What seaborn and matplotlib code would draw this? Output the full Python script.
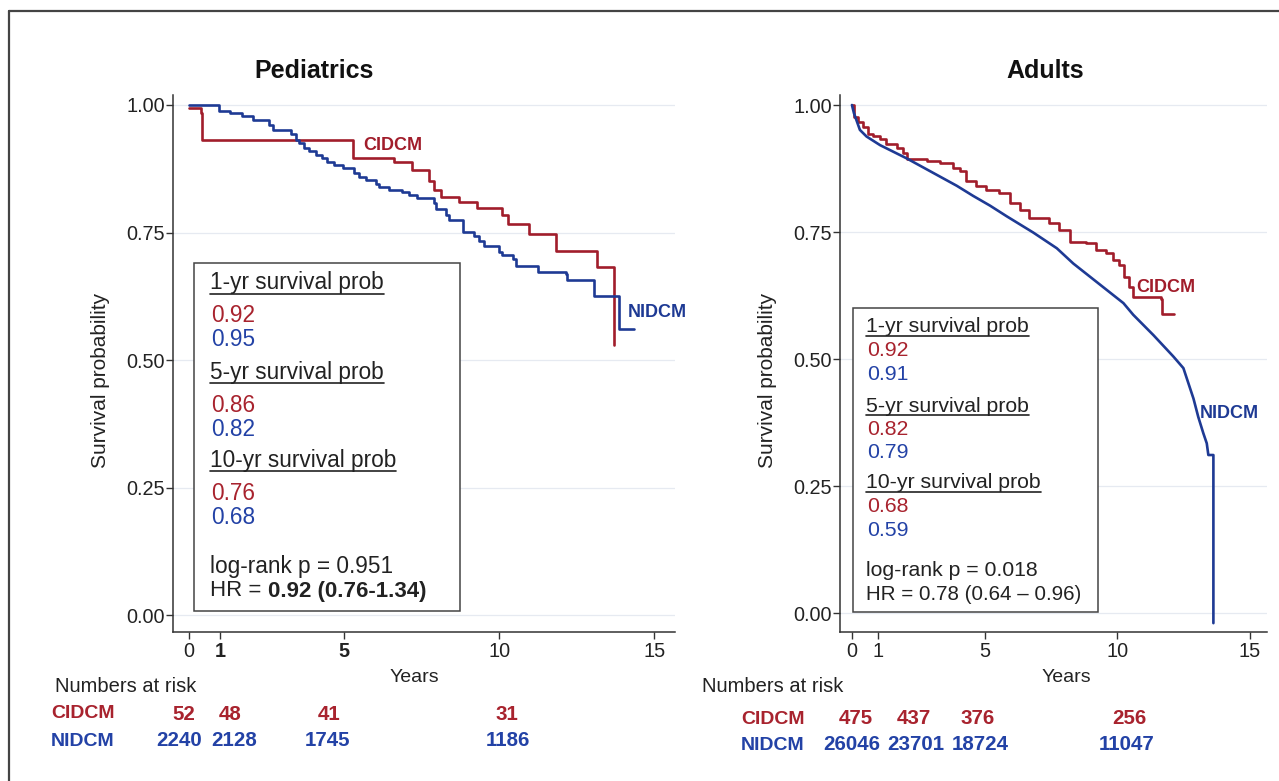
import matplotlib
matplotlib.use("Agg")
import matplotlib.pyplot as plt
import seaborn as sns
import pandas as pd
from matplotlib.lines import Line2D
from matplotlib.patches import Rectangle

# ---------------- data ----------------
ped_cidcm_t = [0.0, 0.38, 0.43, 5.27, 6.61, 7.20, 7.74, 7.90, 8.12, 8.71, 9.30,
               10.10, 10.27, 10.97, 11.83, 13.17, 13.70]
ped_cidcm_s = [0.994, 0.985, 0.932, 0.897, 0.888, 0.873, 0.850, 0.833, 0.820, 0.810,
               0.798, 0.785, 0.767, 0.748, 0.713, 0.682, 0.530]

ped_nidcm_t = [0.0, 0.97, 1.32, 1.70, 2.06, 2.56, 2.69, 3.28, 3.44, 3.55, 3.71, 3.87,
               4.09, 4.30, 4.46, 4.68, 4.95, 5.32, 5.48, 5.70, 6.02, 6.13, 6.45, 6.88,
               7.10, 7.36, 7.90, 7.96, 8.28, 8.39, 8.82, 9.19, 9.35, 9.52, 10.00, 10.10,
               10.43, 10.54, 11.24, 12.15, 12.20, 13.06, 13.87, 14.35]
ped_nidcm_s = [1.000, 0.989, 0.984, 0.978, 0.970, 0.961, 0.951, 0.943, 0.932, 0.925,
               0.915, 0.909, 0.902, 0.896, 0.889, 0.882, 0.876, 0.866, 0.859, 0.853,
               0.846, 0.840, 0.833, 0.830, 0.823, 0.817, 0.807, 0.797, 0.784, 0.774,
               0.751, 0.744, 0.734, 0.724, 0.711, 0.705, 0.698, 0.685, 0.672, 0.669,
               0.656, 0.626, 0.560, 0.560]

adu_cidcm_t = [0.0, 0.08, 0.24, 0.43, 0.61, 0.80, 1.05, 1.30, 1.68, 1.93, 2.06, 2.81,
               3.31, 3.81, 4.06, 4.31, 4.69, 5.06, 5.56, 5.94, 6.32, 6.69, 7.44, 7.82,
               8.20, 8.82, 9.20, 9.58, 9.82, 10.08, 10.26, 10.45, 10.58, 11.64, 11.70,
               12.14]
adu_cidcm_s = [1.000, 0.976, 0.966, 0.956, 0.942, 0.939, 0.933, 0.923, 0.916, 0.906,
               0.893, 0.890, 0.886, 0.876, 0.870, 0.850, 0.840, 0.833, 0.827, 0.807,
               0.794, 0.777, 0.767, 0.754, 0.731, 0.728, 0.714, 0.708, 0.694, 0.685,
               0.661, 0.642, 0.622, 0.618, 0.589, 0.589]

adu_nidcm_t = [0.0, 0.075, 0.30, 0.55, 1.06, 2.06, 2.69, 3.32, 3.95, 4.57, 5.20, 5.83,
               6.83, 7.72, 8.34, 8.97, 9.60, 10.23, 10.60, 11.36, 12.11, 12.49, 12.68,
               12.87, 13.05, 13.24, 13.37, 13.43, 13.62, 13.62]
adu_nidcm_s = [1.000, 0.984, 0.951, 0.938, 0.921, 0.895, 0.877, 0.859, 0.841, 0.821,
               0.802, 0.781, 0.749, 0.718, 0.688, 0.662, 0.636, 0.610, 0.587, 0.547,
               0.505, 0.482, 0.452, 0.422, 0.386, 0.354, 0.334, 0.311, 0.311, -0.020]

horizons = ["1-yr", "5-yr", "10-yr"]
ped_surv_cidcm = ["0.92", "0.86", "0.76"]
ped_surv_nidcm = ["0.95", "0.82", "0.68"]
adu_surv_cidcm = ["0.92", "0.82", "0.68"]
adu_surv_nidcm = ["0.91", "0.79", "0.59"]

ped_logrank = "0.951"
ped_hr = "0.92 (0.76-1.34)"
adu_logrank = "0.018"
adu_hr = "0.78 (0.64 \u2013 0.96)"

ped_risk_cidcm = [52, 48, 41, 31]
ped_risk_nidcm = [2240, 2128, 1745, 1186]
adu_risk_cidcm = [475, 437, 376, 256]
adu_risk_nidcm = [26046, 23701, 18724, 11047]

x_ticks = [0, 1, 5, 10, 15]
y_ticks = [0.0, 0.25, 0.50, 0.75, 1.00]
y_ticklabels = ["0.00", "0.25", "0.50", "0.75", "1.00"]

# ---------------- style ----------------
sns.set_theme(style="ticks")
plt.rcParams["font.family"] = ["Liberation Sans", "DejaVu Sans"]

RED = "#A11D2B"
BLUE = "#1E3A94"
TXT_RED = "#A8232E"
TXT_BLUE = "#2342A6"
DARK = "#222222"

W, H = 1279, 781
fig = plt.figure(figsize=(W / 100, H / 100), dpi=100)
fig.patch.set_facecolor("white")


def fx(px):
    return px / W


def fy(py):
    return 1 - py / H


axL = fig.add_axes([fx(173), fy(632), (675 - 173) / W, (632 - 95) / H])
axR = fig.add_axes([fx(840), fy(632), (1267 - 840) / W, (632 - 95) / H])


def curve(ax, t, s, color, steps=True):
    df = pd.DataFrame({"t": t, "s": s})
    kw = dict(drawstyle="steps-post") if steps else {}
    sns.lineplot(data=df, x="t", y="s", ax=ax, color=color, lw=1.9,
                 estimator=None, sort=False, legend=False, **kw)


curve(axL, ped_cidcm_t, ped_cidcm_s, RED)
curve(axL, ped_nidcm_t, ped_nidcm_s, BLUE)
curve(axR, adu_cidcm_t, adu_cidcm_s, RED)
curve(axR, adu_nidcm_t, adu_nidcm_s, BLUE, steps=False)

axL.set_xlim(-0.52, 15.67)
axL.set_ylim(-0.0333, 1.0196)
axR.set_xlim(-0.45, 15.64)
axR.set_ylim(-0.0374, 1.0197)

for ax, lx, xl in [(axL, -0.125, 0.48), (axR, -0.148, 0.529)]:
    ax.set_facecolor("white")
    sns.despine(ax=ax)
    for sp in ("left", "bottom"):
        ax.spines[sp].set_color("#333333")
        ax.spines[sp].set_linewidth(1.1)
    ax.set_xticks(x_ticks)
    ax.set_xticklabels([str(v) for v in x_ticks])
    ax.set_yticks(y_ticks)
    ax.set_yticklabels(y_ticklabels)
    ax.tick_params(axis="both", direction="out", length=5, width=1.0,
                   color="#333333", labelsize=14.3, labelcolor=DARK, pad=2)
    ax.tick_params(axis="y", pad=1)
    ax.yaxis.grid(True, color="#e6eaf1", lw=0.9)
    ax.xaxis.grid(False)
    ax.set_axisbelow(True)
    ax.set_ylabel("Survival probability", fontsize=15, color=DARK)
    ax.yaxis.set_label_coords(lx, 0.469)
    ax.set_xlabel("Years", fontsize=14, color=DARK)
    ax.xaxis.set_label_coords(xl, -0.069)

for lab in axL.get_xticklabels():
    if lab.get_text() in ("1", "5"):
        lab.set_fontweight("bold")

# titles
fig.text(fx(314), fy(71), "Pediatrics", ha="center", va="center",
         fontsize=18, fontweight="bold", color="#111111")
fig.text(fx(1045), fy(71), "Adults", ha="center", va="center",
         fontsize=18, fontweight="bold", color="#111111")

# curve labels
fig.text(fx(363), fy(146), "CIDCM", ha="left", va="center", fontsize=13,
         fontweight="bold", color=RED)
fig.text(fx(628), fy(313), "NIDCM", ha="left", va="center", fontsize=13,
         fontweight="bold", color=BLUE)
fig.text(fx(1136), fy(287), "CIDCM", ha="left", va="center", fontsize=13,
         fontweight="bold", color=RED)
fig.text(fx(1200), fy(413), "NIDCM", ha="left", va="center", fontsize=13,
         fontweight="bold", color=BLUE)

# stat boxes
fig.add_artist(Rectangle((fx(194), fy(611)), (460 - 194) / W, (611 - 263) / H,
                         transform=fig.transFigure, facecolor="white",
                         edgecolor="#444444", lw=1.1, zorder=5))
fig.add_artist(Rectangle((fx(853), fy(612)), (1098 - 853) / W, (612 - 308) / H,
                         transform=fig.transFigure, facecolor="white",
                         edgecolor="#444444", lw=1.1, zorder=5))

underlined = []


def box_text(x, header_y, row_gap, cid, nid, stat_y, logrank, size, hr_size):
    for i, h in enumerate(horizons):
        y0 = header_y[i]
        t = fig.text(fx(x), fy(y0), f"{h} survival prob", ha="left", va="center",
                     fontsize=size, color=DARK, zorder=6)
        underlined.append(t)
        fig.text(fx(x + 1), fy(y0 + row_gap[0]), cid[i], ha="left", va="center",
                 fontsize=size, color=TXT_RED, zorder=6)
        fig.text(fx(x + 1), fy(y0 + row_gap[1]), nid[i], ha="left", va="center",
                 fontsize=size, color=TXT_BLUE, zorder=6)
    fig.text(fx(x), fy(stat_y[0]), f"log-rank p = {logrank}", ha="left",
             va="center", fontsize=size, color=DARK, zorder=6)
    t1 = fig.text(fx(x), fy(stat_y[1]), "HR = ", ha="left", va="center",
                  fontsize=hr_size, color=DARK, zorder=6)
    return t1


hrL = box_text(210, [283, 372, 460], (33, 57), ped_surv_cidcm, ped_surv_nidcm,
               (567, 591), ped_logrank, 16.3, 16)
hrR = box_text(866, [327, 406, 483], (23, 47), adu_surv_cidcm, adu_surv_nidcm,
               (571, 594), adu_logrank, 15.3, 14.8)

fig.canvas.draw()
renderer = fig.canvas.get_renderer()
inv = fig.transFigure.inverted()

bbL = hrL.get_window_extent(renderer)
fig.text(inv.transform((bbL.x1, 0))[0], fy(591), ped_hr, ha="left", va="center",
         fontsize=16, fontweight="bold", color=DARK, zorder=6)
bbR = hrR.get_window_extent(renderer)
fig.text(inv.transform((bbR.x1, 0))[0], fy(594), adu_hr, ha="left", va="center",
         fontsize=14.8, color=DARK, zorder=6)

for t in underlined:
    bb = t.get_window_extent(renderer)
    (x0, y0), (x1, _) = inv.transform([(bb.x0, bb.y0 + 1), (bb.x1, bb.y0)])
    fig.add_artist(Line2D([x0, x1], [y0, y0], transform=fig.transFigure,
                          color=DARK, lw=1.2, zorder=6))


# numbers at risk
def risk_table(x_lab, x_row, cols_c, cols_n, cid, nid, y_rows):
    fig.text(fx(x_lab), fy(y_rows[0]), "Numbers at risk", ha="left", va="center",
             fontsize=14.5, color=DARK)
    fig.text(fx(x_row), fy(y_rows[1]), "CIDCM", ha="left", va="center",
             fontsize=14, fontweight="bold", color=TXT_RED)
    fig.text(fx(x_row), fy(y_rows[2]), "NIDCM", ha="left", va="center",
             fontsize=14, fontweight="bold", color=TXT_BLUE)
    for cx, a in zip(cols_c, cid):
        fig.text(fx(cx), fy(y_rows[1]), str(a), ha="center", va="center",
                 fontsize=14.8, fontweight="bold", color=TXT_RED)
    for cx, b in zip(cols_n, nid):
        fig.text(fx(cx), fy(y_rows[2]), str(b), ha="center", va="center",
                 fontsize=14.8, fontweight="bold", color=TXT_BLUE)


risk_table(55, 51, [184, 230, 329, 507], [179, 234, 327, 508],
           ped_risk_cidcm, ped_risk_nidcm, (687, 714, 741))
risk_table(702, 741, [856, 914, 978, 1129], [852, 916, 980, 1127],
           adu_risk_cidcm, adu_risk_nidcm, (687, 719, 745))

# frame lines (left and top)
fig.add_artist(Line2D([fx(9), fx(9)], [fy(11), 0], transform=fig.transFigure,
                      color="#444444", lw=1.6))
fig.add_artist(Line2D([fx(9), 1], [fy(11), fy(11)], transform=fig.transFigure,
                      color="#444444", lw=1.6))

fig.savefig("out.png", dpi=100)
